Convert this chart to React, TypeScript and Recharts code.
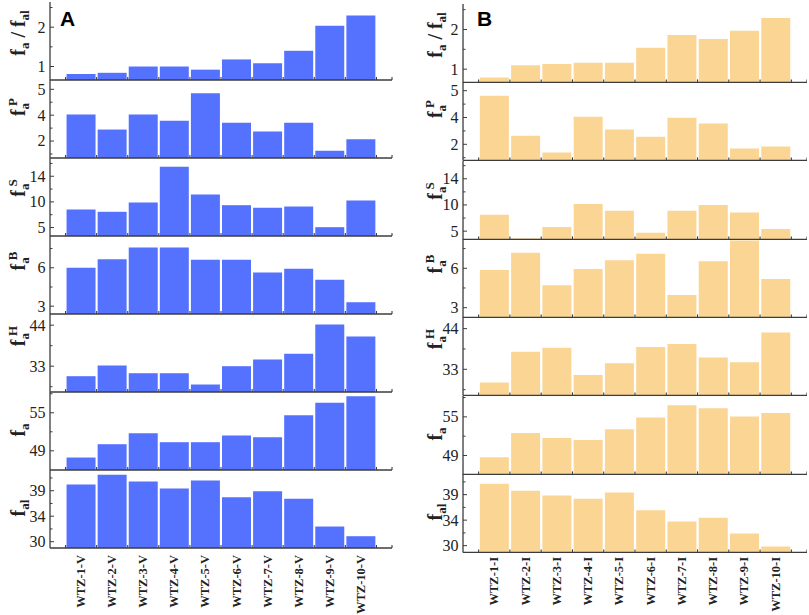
import React from 'react';
import { BarChart, Bar, XAxis, YAxis } from 'recharts';

// ---------- categories ----------
const categoriesA = ['WTZ-1-V', 'WTZ-2-V', 'WTZ-3-V', 'WTZ-4-V', 'WTZ-5-V', 'WTZ-6-V', 'WTZ-7-V', 'WTZ-8-V', 'WTZ-9-V', 'WTZ-10-V'];
const categoriesB = ['WTZ-1-I', 'WTZ-2-I', 'WTZ-3-I', 'WTZ-4-I', 'WTZ-5-I', 'WTZ-6-I', 'WTZ-7-I', 'WTZ-8-I', 'WTZ-9-I', 'WTZ-10-I'];

// ---------- column A values ----------
const ratioA = [0.81, 0.84, 1.0, 1.0, 0.92, 1.18, 1.08, 1.4, 2.04, 2.3];
const faPA = [4.05, 2.89, 4.05, 3.57, 5.7, 3.41, 2.74, 3.41, 1.25, 2.14];
const faSA = [8.52, 8.07, 9.88, 16.84, 11.44, 9.36, 8.85, 9.1, 5.07, 10.27];
const faBA = [6.0, 6.67, 7.59, 7.59, 6.63, 6.63, 5.63, 5.92, 5.06, 3.31];
const faHA = [30.32, 33.19, 31.12, 31.12, 28.09, 33.0, 34.8, 36.33, 44.19, 40.97];
const faA = [47.94, 50.04, 51.78, 50.36, 50.36, 51.42, 51.15, 54.62, 56.58, 57.62];
const falA = [38.97, 40.49, 39.44, 38.35, 39.6, 36.98, 37.92, 36.73, 32.38, 30.86];

// ---------- column B values ----------
const ratioB = [0.79, 1.1, 1.13, 1.16, 1.16, 1.54, 1.86, 1.76, 1.97, 2.29];
const faPB = [5.62, 2.64, 1.39, 4.06, 3.11, 2.56, 3.98, 3.56, 1.69, 1.84];
const faSB = [8.14, 3.6, 5.78, 10.17, 8.9, 4.7, 8.9, 9.98, 8.58, 5.4];
const faBB = [5.87, 7.19, 4.71, 5.95, 6.61, 7.11, 3.97, 6.53, 8.12, 5.19];
const faHB = [29.41, 37.78, 38.86, 31.49, 34.62, 39.05, 39.86, 36.16, 34.89, 42.92];
const faB = [48.74, 52.51, 51.73, 51.42, 53.08, 54.9, 56.81, 56.34, 55.06, 55.62];
const falB = [39.7, 38.6, 37.87, 37.35, 38.34, 35.57, 33.79, 34.37, 31.9, 29.86];

// ---------- y ticks (positions and printed labels) ----------
const ratioTicks = [1, 2];
const ratioTickLabels = ['1', '2'];
const ratioMinor = [1.5, 2.5];
const faPTicks = [2, 4, 6];
const faPTickLabels = ['2', '4', '5'];
const faPMinor = [1, 3, 5];
const faSTicks = [5, 10, 15];
const faSTickLabels = ['5', '10', '14'];
const faSMinor = [7.5, 12.5, 17.5];
const faBTicks = [3, 6];
const faBTickLabels = ['3', '6'];
const faBMinor = [4.5, 7.5];
const faHTicks = [33, 44];
const faHTickLabels = ['33', '44'];
const faHMinor = [27.5, 38.5];
const faTicks = [49, 55];
const faTickLabels = ['49', '55'];
const faMinor = [52, 58];
const falTicks = [30, 34, 38];
const falTickLabels = ['30', '34', '39'];
const falMinor = [32, 36, 40];

// ---------- y domains ----------
const domainsA: [number, number][] = [
  [0.657, 2.641], [0.69, 6.72], [3.35, 18.56], [2.39, 8.48], [26.08, 47.0], [45.97, 58.28], [29.01, 41.25],
];
const domainsB: [number, number][] = [
  [0.667, 2.642], [0.8, 6.65], [3.43, 18.39], [2.26, 8.23], [25.95, 47.14], [46.07, 58.24], [28.94, 41.24],
];

// ---------- style ----------
const AXIS = '#3c3c3c';
const TEXT = '#222';
const SERIF = '"Liberation Serif", "Times New Roman", serif';
const COLOR_A = '#5572FE';
const COLOR_B = '#FBD593';
const labelOffsets = [31, 27, 30, 25, 22, 38, 38];

type LabelSpec = { kind: 'ratio' } | { kind: 'plain'; sub: string; sup?: string };

const labelSpecs: LabelSpec[] = [
  { kind: 'ratio' },
  { kind: 'plain', sub: 'a', sup: 'P' },
  { kind: 'plain', sub: 'a', sup: 'S' },
  { kind: 'plain', sub: 'a', sup: 'B' },
  { kind: 'plain', sub: 'a', sup: 'H' },
  { kind: 'plain', sub: 'a' },
  { kind: 'plain', sub: 'al' },
];

type PanelCfg = {
  values: number[];
  domain: [number, number];
  ticks: number[];
  tickLabels: string[];
  minor: number[];
};

function buildCfgs(vals: number[][], domains: [number, number][]): PanelCfg[] {
  const tk = [ratioTicks, faPTicks, faSTicks, faBTicks, faHTicks, faTicks, falTicks];
  const tl = [ratioTickLabels, faPTickLabels, faSTickLabels, faBTickLabels, faHTickLabels, faTickLabels, falTickLabels];
  const mn = [ratioMinor, faPMinor, faSMinor, faBMinor, faHMinor, faMinor, falMinor];
  return vals.map((v, i) => ({
    values: v,
    domain: domains[i],
    ticks: tk[i],
    tickLabels: tl[i],
    minor: mn[i].filter((m) => m > domains[i][0] && m < domains[i][1]),
  }));
}

const cfgA = buildCfgs([ratioA, faPA, faSA, faBA, faHA, faA, falA], domainsA);
const cfgB = buildCfgs([ratioB, faPB, faSB, faBB, faHB, faB, falB], domainsB);

const MAIN = 20;
const SUB = 13;

function YLabel({ viewBox, spec, offset, baseX }: any) {
  const x = viewBox.x + baseX;
  const y = viewBox.y + offset;
  let parts: React.ReactNode[];
  if (spec.kind === 'ratio') {
    parts = [
      <tspan key="1">f</tspan>,
      <tspan key="2" fontSize={SUB} dy={4}>a</tspan>,
      <tspan key="3" dy={-4}>{' / f'}</tspan>,
      <tspan key="4" fontSize={SUB} dy={4}>al</tspan>,
    ];
  } else {
    parts = [
      <tspan key="1">f</tspan>,
      <tspan key="2" fontSize={SUB} dy={4}>{spec.sub}</tspan>,
    ];
    if (spec.sup) {
      parts.push(
        <tspan key="3" fontSize={SUB} dx={-3} dy={-12}>{spec.sup}</tspan>
      );
    }
  }
  return (
    <text
      x={x}
      y={y}
      transform={`rotate(-90 ${x} ${y})`}
      textAnchor="middle"
      fontFamily={SERIF}
      fontWeight="bold"
      fontSize={MAIN}
      fill={TEXT}
    >
      {parts}
    </text>
  );
}

function renderYTick(p: any, cfg: PanelCfg) {
  const v = p.payload.value;
  const idx = cfg.ticks.indexOf(v);
  const major = idx >= 0;
  return (
    <g>
      <line x1={p.x} y1={p.y} x2={p.x + (major ? 4 : 2.5)} y2={p.y} stroke={AXIS} strokeWidth={1} />
      {major && (
        <text x={p.x - 4.5} y={p.y} dy="0.34em" textAnchor="end" fontFamily={SERIF} fontSize={16} fill={TEXT}>
          {cfg.tickLabels[idx]}
        </text>
      )}
    </g>
  );
}

// category tick: small inward marks at band boundaries (+ axis end), label under the bottom panel
function renderXTick(p: any, cats: string[], band: number, showLabel: boolean, labelGap: number) {
  const name = p.payload.value;
  const i = cats.indexOf(name);
  const marks: number[] = [p.x - band / 2];
  if (i === cats.length - 1) {
    marks.push(p.x + band / 2, p.x + band);
  }
  const ty = p.y + labelGap;
  return (
    <g>
      {marks.map((mx, k) => (
        <line key={k} x1={mx} x2={mx} y1={p.y} y2={p.y - 3} stroke={AXIS} strokeWidth={1.1} />
      ))}
      {showLabel && (
        <text
          x={p.x}
          y={ty}
          transform={`rotate(-90 ${p.x} ${ty})`}
          textAnchor="end"
          dominantBaseline="central"
          fontFamily={SERIF}
          fontWeight="bold"
          fontSize={12.5}
          fill={TEXT}
        >
          {name}
        </text>
      )}
    </g>
  );
}

type PanelProps = {
  cfg: PanelCfg;
  cats: string[];
  color: string;
  width: number;
  plotH: number;
  extra: number;
  isBottom: boolean;
  idx: number;
  marginRight: number;
  gap: number;
  baseX: number;
  labelGap: number;
};

const X_AXIS_H = 1;

function Panel({ cfg, cats, color, width, plotH, extra, isBottom, idx, marginRight, gap, baseX, labelGap }: PanelProps) {
  const rows = cats.map((name, i) => ({ name, v: cfg.values[i] }));
  const axisW = 50;
  const plotW = width - axisW - marginRight;
  const band = plotW / (cats.length + 1);
  const pad = band / 2;
  const yTicks = [...cfg.ticks, ...cfg.minor].sort((a, b) => a - b);
  return (
    <BarChart
      width={width}
      height={plotH + extra}
      data={rows}
      margin={{ top: 0, right: marginRight, bottom: extra - X_AXIS_H, left: 0 }}
      barCategoryGap={gap}
    >
      <XAxis
        dataKey="name"
        type="category"
        padding={{ left: pad, right: pad }}
        interval={0}
        height={X_AXIS_H}
        tickSize={0}
        tickMargin={0}
        tickLine={false}
        axisLine={{ stroke: AXIS, strokeWidth: 1.3 }}
        tick={(p: any) => renderXTick(p, cats, band, isBottom, labelGap)}
      />
      <YAxis
        type="number"
        domain={cfg.domain}
        allowDataOverflow
        ticks={yTicks}
        interval={0}
        width={axisW}
        tickSize={0}
        tickMargin={0}
        tickLine={false}
        axisLine={{ stroke: AXIS, strokeWidth: 1.3 }}
        tick={(p: any) => renderYTick(p, cfg)}
        label={(p: any) => (
          <YLabel viewBox={p.viewBox} spec={labelSpecs[idx]} offset={labelOffsets[idx]} baseX={baseX} />
        )}
      />
      <Bar dataKey="v" fill={color} isAnimationActive={false} />
    </BarChart>
  );
}

function Column({ cfgs, cats, color, left, top0, plotH, width, marginRight, gap, bottomExtra, baseX, labelGap }: any) {
  return (
    <>
      {cfgs.map((cfg: PanelCfg, i: number) => {
        const isBottom = i === cfgs.length - 1;
        return (
          <div key={i} style={{ position: 'absolute', left, top: top0 + plotH * i }}>
            <Panel
              cfg={cfg}
              cats={cats}
              color={color}
              width={width}
              plotH={plotH}
              extra={isBottom ? bottomExtra : 4}
              isBottom={isBottom}
              idx={i}
              marginRight={marginRight}
              gap={gap}
              baseX={baseX}
              labelGap={labelGap}
            />
          </div>
        );
      })}
    </>
  );
}

export default function App() {
  return (
    <div style={{ position: 'absolute', left: 0, top: 0, width: 809, height: 615, background: '#fff', overflow: 'hidden' }}>
      <Column cfgs={cfgA} cats={categoriesA} color={COLOR_A} left={0} top0={1.5} plotH={78} width={400} marginRight={8} gap={1} bottomExtra={66} baseX={25} labelGap={7} />
      <Column cfgs={cfgB} cats={categoriesB} color={COLOR_B} left={413} top0={3.8} plotH={78.4} width={394} marginRight={0} gap={1.2} bottomExtra={61} baseX={29} labelGap={4.5} />
      <div style={{ position: 'absolute', left: 60, top: 8, font: 'bold 21px "Liberation Sans", Arial, sans-serif', color: '#000', lineHeight: '21px' }}>A</div>
      <div style={{ position: 'absolute', left: 477, top: 8, font: 'bold 21px "Liberation Sans", Arial, sans-serif', color: '#000', lineHeight: '21px' }}>B</div>
    </div>
  );
}
